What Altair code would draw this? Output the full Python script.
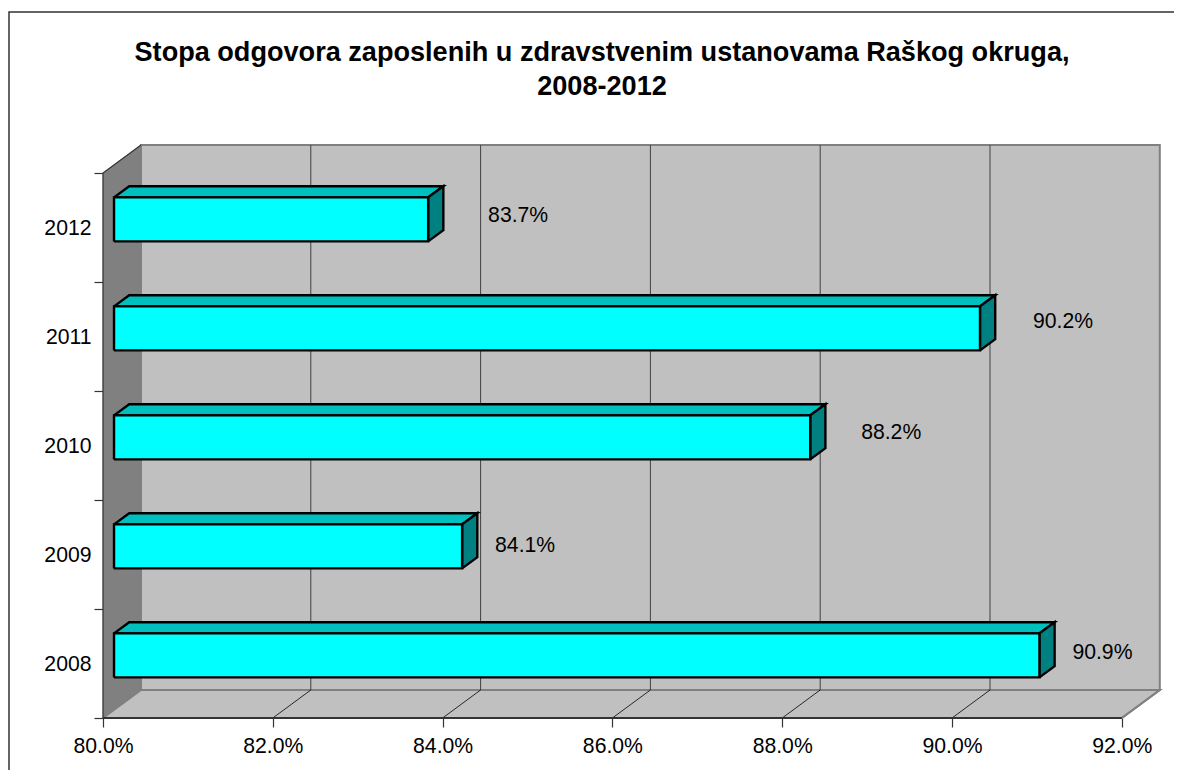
import altair as alt
import pandas as pd

years = [2008, 2009, 2010, 2011, 2012]
values = [90.9, 84.1, 88.2, 90.2, 83.7]
label_dx = [63, 63, 81, 83, 90]     # label centre right of bar end, px
label_dy = [-2.8, -0.5, -4.5, -6.5, -3]     # label centre from bar middle, px (negative = up)
x_ticks = [80, 82, 84, 86, 88, 90, 92]
title_lines = ["Stopa odgovora zaposlenih u zdravstvenim ustanovama Raškog okruga,", "2008-2012"]

XPX = 84.9   # px per percentage point
YPX = 109.0  # px per category
W, H = 1057, 573
X0, X1 = 80.0, 92.0
DX, DY = 38 / XPX, 28 / YPX   # full chart depth in data units
BAR_F1, BAR_F2 = 0.29, 0.69   # bar depth position as a share of the chart depth
HALF = 22 / YPX
FONT = "Liberation Sans"
LABEL_SIZE = 21.2

xs = alt.Scale(domain=[X0, X0 + W / XPX], nice=False, zero=False)
ys = alt.Scale(domain=[0, H / YPX], nice=False, zero=False)
X_ENC = alt.X("x:Q", scale=xs, title=None)
Y_ENC = alt.Y("y:Q", scale=ys, title=None)


def d(x, y, f=0.0):
    return (x + DX * f, y + DY * f)


def poly(points, fill=None, stroke="#000000", sw=1.0, closed=True):
    pts = list(points) + ([points[0]] if closed else [])
    df = pd.DataFrame({"x": [p[0] for p in pts], "y": [p[1] for p in pts], "i": range(len(pts))})
    kw = dict(stroke=stroke, strokeWidth=sw, strokeJoin="miter", clip=False)
    if fill:
        kw["fill"] = fill
    return alt.Chart(df).mark_line(**kw).encode(x=X_ENC, y=Y_ENC, order="i:Q")


x_axis = alt.Axis(
    values=x_ticks, labelExpr="format(datum.value, '.1f') + '%'", title=None, grid=False, domain=False,
    tickSize=9, tickColor="#333333", tickWidth=1.2, labelFont=FONT, labelFontSize=LABEL_SIZE, labelColor="#000000",
    labelPadding=8, labelFlush=False, labelOverlap=False, labelBound=False,
)
year_list = "[" + ",".join(f"'{y}'" for y in years) + "]"
y_vals = [i / 2 for i in range(2 * len(years) + 1)]
y_axis = alt.Axis(
    values=y_vals, title=None, grid=False, domain=False,
    labelExpr=f"datum.value % 1 == 0 ? '' : {year_list}[floor(datum.value)]",
    tickOpacity=alt.expr("datum.value % 1 == 0 ? 1 : 0"),
    tickSize=9, tickColor="#333333", tickWidth=1.2, labelFont=FONT, labelFontSize=LABEL_SIZE, labelColor="#000000",
    labelPadding=3, labelOffset=1, labelOverlap=False, labelBound=False, labelFlush=False,
)
axes_df = pd.DataFrame({"x": [X0], "y": [0.0]})
axes = alt.Chart(axes_df).mark_point(opacity=0).encode(
    x=alt.X("x:Q", scale=xs, axis=x_axis),
    y=alt.Y("y:Q", scale=ys, axis=y_axis),
)

n = len(years)
layers = [axes]

# outer frame
fl = X0 + (9 - 103) / XPX
fr = X0 + (1182 - 103) / XPX
ft = (718 - 12) / YPX
fb = (718 - 772) / YPX
layers.append(poly([(fr, ft), (fl, ft), (fl, fb)], stroke="#333333", sw=1.5, closed=False))

# walls and floor
layers.append(poly([d(X0, 0), d(X0, n), d(X0, n, 1), d(X0, 0, 1)], fill="#808080", stroke="#808080", sw=0.5))
layers.append(poly([d(X0, 0, 1), d(X0, n, 1), d(X1, n, 1), d(X1, 0, 1)], fill="#C0C0C0", stroke="#808080", sw=2))
layers.append(poly([d(X0, 0), d(X1, 0), d(X1, 0, 1), d(X0, 0, 1)], fill="#C0C0C0", stroke="#808080", sw=2))
layers.append(poly([d(X0, 0, 1), d(X0, n, 1)], stroke="#808080", sw=1, closed=False))

# gridlines
for t in x_ticks[1:-1]:
    layers.append(poly([d(t, n, 1), d(t, 0, 1)], stroke="#404040", sw=1, closed=False))
    layers.append(poly([d(t, 0, 1), d(t, 0)], stroke="#000000", sw=0.8, closed=False))

# front edges
layers.append(poly([d(X0, 0, 1), d(X0, 0)], stroke="#808080", sw=1, closed=False))
layers.append(poly([d(X0, n, 1), d(X0, n), d(X0, 0), d(X1, 0)], stroke="#333333", sw=1.2, closed=False))
layers.append(poly([d(X1, 0), d(X1, 0, 1)], stroke="#808080", sw=2, closed=False))
layers.append(poly([d(X0, 0), d(X1, 0)], stroke="#333333", sw=2, closed=False))

# bars
for i, v in enumerate(values):
    lo, hi = i + 0.5 - HALF, i + 0.5 + HALF
    layers.append(poly([d(X0, hi, BAR_F1), d(v, hi, BAR_F1), d(v, hi, BAR_F2), d(X0, hi, BAR_F2)],
                       fill="#00BFBF", sw=2.4))
    layers.append(poly([d(v, lo, BAR_F1), d(v, hi, BAR_F1), d(v, hi, BAR_F2), d(v, lo, BAR_F2)],
                       fill="#008080", sw=2.4))
    layers.append(poly([d(X0, lo, BAR_F1), d(v, lo, BAR_F1), d(v, hi, BAR_F1), d(X0, hi, BAR_F1)],
                       fill="#00FFFF", sw=2.4))

# value labels
lab = pd.DataFrame({
    "x": [d(v, 0, BAR_F1)[0] + dx / XPX for v, dx in zip(values, label_dx)],
    "y": [d(0, i + 0.5, BAR_F1)[1] - dy / YPX for i, dy in enumerate(label_dy)],
    "t": [f"{v:.1f}%" for v in values],
})
layers.append(alt.Chart(lab).mark_text(font=FONT, fontSize=LABEL_SIZE, color="#000000", align="center", baseline="middle", clip=False).encode(
    x=X_ENC, y=Y_ENC, text="t:N"))

# chart title
ttl = pd.DataFrame({
    "x": [X0 + (602 - 103) / XPX] * 2,
    "y": [(718 - 52.5) / YPX, (718 - 86.5) / YPX],
    "t": title_lines,
})
layers.append(alt.Chart(ttl).mark_text(font=FONT, fontSize=27.1, fontWeight="bold", color="#000000", align="center", baseline="middle", clip=False).encode(
    x=X_ENC, y=Y_ENC, text="t:N"))

chart = alt.layer(*layers).properties(
    width=W, height=H,
    padding={"left": 95, "top": 137, "right": 14, "bottom": 54},
    autosize=alt.AutoSizeParams(type="none"),
).configure_view(stroke=None)

chart.save("out.html", embed_options={"renderer": "svg", "actions": False})
